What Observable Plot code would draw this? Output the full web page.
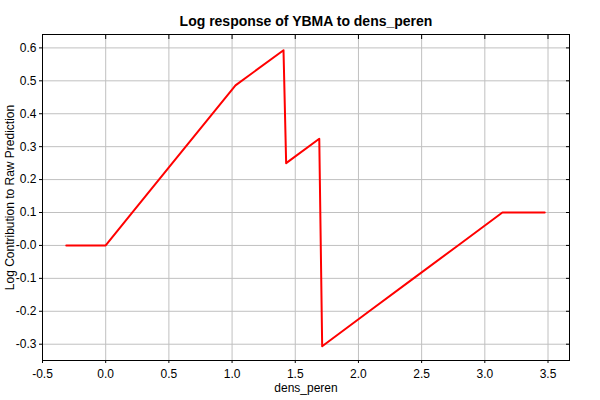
<!DOCTYPE html>
<html>
<head>
<meta charset="utf-8">
<script src="https://cdn.jsdelivr.net/npm/d3@7"></script>
<script src="https://cdn.jsdelivr.net/npm/@observablehq/plot@0.6"></script>
<style>
  html, body { margin: 0; padding: 0; background: #fff; }
  svg { font-family: "Liberation Sans", Arial, sans-serif; }
</style>
</head>
<body>
<div id="chart"></div>
<script>
const title = "Log response of YBMA to dens_peren";
const xLabel = "dens_peren";
const yLabel = "Log Contribution to Raw Prediction";
const xValues = [-0.312, 0.0, 0.2, 0.5, 1.027, 1.407, 1.428, 1.69, 1.713, 2.085, 2.436, 2.788, 3.139, 3.474];
const yValues = [0.0, 0.0, 0.095, 0.237, 0.486, 0.593, 0.25, 0.324, -0.306, -0.2, -0.1, 0.0, 0.1, 0.1];
const xTicks = [-0.5, 0.0, 0.5, 1.0, 1.5, 2.0, 2.5, 3.0, 3.5];
const yTicks = [-0.3, -0.2, -0.1, 0.0, 0.1, 0.2, 0.3, 0.4, 0.5, 0.6];

const data = xValues.map((x, i) => ({x, y: yValues[i]}));
const yFmt = d => (d === 0 ? "-0.0" : d.toFixed(1));
const xFmt = d => d.toFixed(1);

const plot = Plot.plot({
  width: 600,
  height: 400,
  marginTop: 34,
  marginLeft: 42,
  marginRight: 31,
  marginBottom: 40,
  style: {fontSize: "12px", fontFamily: '"Liberation Sans", Arial, sans-serif', color: "#000", background: "#fff"},
  x: {domain: [-0.5, 3.67], ticks: xTicks, tickFormat: xFmt, label: null},
  y: {domain: [-0.3495, 0.6407], ticks: yTicks, tickFormat: yFmt, label: null},
  marks: [
    Plot.gridX(xTicks, {stroke: "#c0c0c0", strokeOpacity: 1}),
    Plot.gridY(yTicks, {stroke: "#c0c0c0", strokeOpacity: 1}),
    Plot.axisX(xTicks, {anchor: "bottom", tickSize: 3, tickPadding: 6, tickFormat: xFmt, fontSize: 12, label: null}),
    Plot.axisY(yTicks, {anchor: "left", tickSize: 3, tickPadding: 3, tickFormat: yFmt, fontSize: 12, label: null}),
    Plot.axisX(xTicks, {anchor: "top", tickSize: -4, tickFormat: () => "", label: null}),
    Plot.axisY(yTicks, {anchor: "right", tickSize: -4, tickFormat: () => "", label: null}),
    Plot.frame({stroke: "#000", strokeWidth: 1}),
    Plot.line(data, {x: "x", y: "y", stroke: "#ff0000", strokeWidth: 2}),
    Plot.text([title], {frameAnchor: "top", dy: -18, fontSize: 14, fontWeight: "bold", fill: "#000"}),
    Plot.text([xLabel], {frameAnchor: "bottom", dy: 31, fontSize: 12, fill: "#000"}),
    Plot.text([yLabel], {frameAnchor: "left", dx: -32, rotate: -90, textAnchor: "middle", fontSize: 12, fill: "#000"})
  ]
});
document.getElementById("chart").appendChild(plot);
</script>
</body>
</html>
